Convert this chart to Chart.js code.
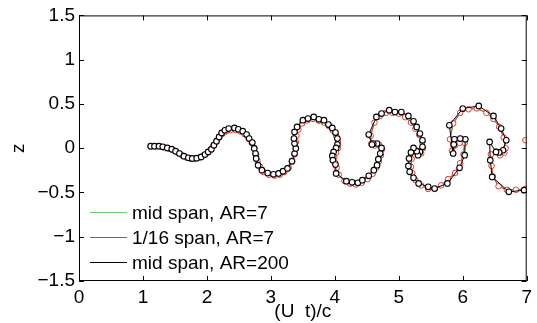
<!DOCTYPE html>
<html>
<head>
<meta charset="utf-8">
<script src="https://cdn.jsdelivr.net/npm/chart.js@4/dist/chart.umd.min.js"></script>
<style>
  html, body { margin: 0; padding: 0; background: #fff; }
  #wrap { width: 537px; height: 323px; }
</style>
</head>
<body>
<div id="wrap"><canvas id="chart"></canvas></div>
<script>
// mid span, AR=200 (black, circle markers)
const ar200X = [1.12,1.18,1.25,1.31,1.38,1.45,1.51,1.57,1.64,1.71,
  1.77,1.84,1.91,1.97,2.02,2.07,2.11,2.15,2.19,2.23,
  2.28,2.34,2.43,2.49,2.56,2.62,2.66,2.71,2.74,2.76,
  2.77,2.80,2.86,2.95,3.04,3.12,3.19,3.26,3.33,3.37,
  3.39,3.37,3.36,3.37,3.41,3.50,3.58,3.67,3.75,3.83,
  3.90,3.96,4.01,4.04,4.04,4.02,3.98,3.96,3.97,4.01,
  4.02,4.18,4.27,4.36,4.43,4.53,4.61,4.66,4.68,4.71,
  4.73,4.66,4.60,4.58,4.53,4.65,4.73,4.85,4.94,5.04,
  5.15,5.23,5.28,5.33,5.37,5.37,5.33,5.30,5.28,5.23,
  5.19,5.16,5.15,5.17,5.23,5.31,5.46,5.56,5.76,5.95,
  6.03,6.04,5.96,5.87,5.86,5.85,5.79,6.00,6.25,6.48,
  6.60,6.68,6.63,6.57,6.52,6.42,6.43,6.46,6.72,6.96,
  7.05];
const ar200Z = [0.023,0.023,0.023,0.015,0.003,-0.011,-0.034,-0.060,-0.090,-0.109,
  -0.116,-0.113,-0.098,-0.071,-0.042,-0.011,0.034,0.079,0.127,0.173,
  0.203,0.222,0.229,0.214,0.192,0.155,0.109,0.064,-0.003,-0.060,
  -0.116,-0.192,-0.248,-0.28,-0.295,-0.285,-0.26,-0.229,-0.147,-0.060,
  -0.003,0.053,0.109,0.184,0.240,0.316,0.335,0.353,0.327,0.316,
  0.267,0.229,0.177,0.109,0.042,0.003,-0.042,-0.087,-0.135,-0.184,
  -0.285,-0.372,-0.385,-0.39,-0.361,-0.312,-0.248,-0.192,-0.124,-0.060,
  0.003,0.053,0.053,0.042,0.155,0.353,0.391,0.429,0.409,0.409,
  0.364,0.304,0.240,0.166,0.090,0.015,-0.042,-0.079,-0.034,0.003,
  -0.048,-0.116,-0.200,-0.267,-0.335,-0.398,-0.436,-0.455,-0.398,-0.222,
  -0.079,0.101,0.109,0.101,0.042,-0.060,0.259,0.448,0.477,0.364,
  0.222,0.090,-0.023,-0.048,-0.042,0.071,-0.135,-0.324,-0.493,-0.474,
  -0.47];

// 1/16 span, AR=7 (red, circle markers); null = break in the line
const spanX = [1.12,1.19,1.26,1.33,1.40,1.47,1.54,1.61,1.68,1.75,
  1.82,1.89,1.95,2.01,2.06,2.10,2.15,2.19,2.24,2.30,
  2.37,2.45,2.52,2.59,2.65,2.70,2.74,2.77,2.79,2.83,
  2.89,2.97,3.06,3.14,3.21,3.28,3.33,3.37,3.39,3.39,
  3.40,3.43,3.49,3.57,3.66,3.75,3.83,3.91,3.97,4.02,
  4.05,4.05,4.02,3.99,4.00,4.03,4.06,4.15,4.24,4.33,
  4.42,4.51,4.59,4.65,4.69,4.72,4.74,4.69,4.63,4.57,
  4.56,4.62,4.70,4.80,4.90,5.00,5.10,5.19,5.26,5.32,
  5.37,5.38,5.35,5.31,5.26,5.22,5.20,5.19,5.21,5.26,
  5.35,5.46,5.56,5.66,5.77,5.88,5.96,6.01,6.03,5.95,
  5.88,5.83,5.80,5.85,5.96,6.09,6.22,6.37,6.48,6.57,
  6.64,6.67,6.65,6.58,6.52,6.44,6.45,6.47,6.56,6.69,
  6.83,6.98,7.10,7.10,6.98,7.10];
const spanZ = [0.02,0.02,0.02,0.01,-0.005,-0.02,-0.05,-0.08,-0.105,-0.12,
  -0.12,-0.105,-0.08,-0.05,-0.015,0.03,0.075,0.12,0.16,0.19,
  0.205,0.205,0.19,0.16,0.115,0.06,0.0,-0.07,-0.14,-0.21,
  -0.27,-0.30,-0.31,-0.30,-0.27,-0.22,-0.15,-0.07,0.0,0.07,
  0.14,0.21,0.28,0.315,0.33,0.31,0.29,0.25,0.20,0.14,
  0.07,0.0,-0.05,-0.10,-0.16,-0.22,-0.30,-0.37,-0.40,-0.41,
  -0.39,-0.35,-0.29,-0.22,-0.15,-0.08,-0.01,0.04,0.03,0.05,
  0.14,0.29,0.36,0.40,0.40,0.39,0.35,0.29,0.22,0.15,
  0.07,0.0,-0.06,-0.05,-0.02,-0.04,-0.12,-0.21,-0.28,-0.36,
  -0.42,-0.46,-0.46,-0.42,-0.35,-0.28,-0.17,-0.07,0.06,0.06,
  0.03,-0.03,0.1,0.28,0.40,0.44,0.45,0.40,0.33,0.24,
  0.12,0.0,-0.05,-0.08,-0.04,-0.07,-0.20,-0.32,-0.43,-0.47,
  -0.47,-0.46,-0.46,null,0.09,0.15];

// mid span, AR=7 (green) sits under the red run, same trace
const midX = spanX;
const midZ = spanZ;

const xTicks = [0,1,2,3,4,5,6,7];
const yTicks = [-1.5,-1,-0.5,0,0.5,1,1.5];
const labels = ['mid span, AR=7', '1/16 span, AR=7', 'mid span, AR=200'];

const pts = (xs, zs) => xs.map((x, i) => ({ x: x, y: zs[i] }));

const FONT = "'Liberation Sans', Arial, Helvetica, sans-serif";
Chart.defaults.font.family = FONT;
Chart.defaults.font.size = 19;
Chart.defaults.color = '#000';

// box, inward ticks on all four sides, and the legend inside the plot
const framePlugin = {
  id: 'frame',
  afterDatasetsDraw(chart) {
    const ctx = chart.ctx;
    const a = chart.chartArea;
    const xs = chart.scales.x, ys = chart.scales.y;
    ctx.save();
    ctx.strokeStyle = '#000';
    ctx.lineWidth = 1;
    ctx.strokeRect(a.left + 0.5, a.top + 0.5, a.right - a.left - 1, a.bottom - a.top - 1);
    ctx.beginPath();
    xTicks.forEach(v => {
      const p = Math.round(xs.getPixelForValue(v)) + 0.5;
      ctx.moveTo(p, a.bottom); ctx.lineTo(p, a.bottom - 5);
      ctx.moveTo(p, a.top); ctx.lineTo(p, a.top + 5);
    });
    yTicks.forEach(v => {
      const p = Math.round(ys.getPixelForValue(v)) + 0.5;
      ctx.moveTo(a.left, p); ctx.lineTo(a.left + 5, p);
      ctx.moveTo(a.right, p); ctx.lineTo(a.right - 5, p);
    });
    ctx.stroke();

    // legend
    const order = [2, 1, 0];
    ctx.font = '19px ' + FONT;
    ctx.textBaseline = 'middle';
    ctx.textAlign = 'left';
    order.forEach((di, row) => {
      const ds = chart.data.datasets[di];
      const y = 212.5 + row * 25;
      ctx.strokeStyle = ds.borderColor;
      ctx.lineWidth = 1;
      ctx.beginPath();
      ctx.moveTo(90, y); ctx.lineTo(127, y);
      ctx.stroke();
      ctx.fillStyle = '#000';
      ctx.fillText(ds.label, 132, y + 1);
    });
    ctx.restore();
  }
};

new Chart(document.getElementById('chart'), {
  type: 'scatter',
  data: {
    datasets: [
      {
        label: labels[2],
        data: pts(ar200X, ar200Z),
        showLine: true,
        borderColor: '#000',
        borderWidth: 1,
        pointRadius: 2.8,
        pointBorderWidth: 1.1,
        pointBackgroundColor: '#fff',
        pointBorderColor: '#000'
      },
      {
        label: labels[1],
        data: pts(spanX, spanZ),
        showLine: true,
        spanGaps: false,
        borderColor: '#e8372c',
        borderWidth: 1,
        pointRadius: 2.8,
        pointBorderWidth: 1,
        pointBackgroundColor: '#fff',
        pointBorderColor: '#e8372c'
      },
      {
        label: labels[0],
        data: pts(midX, midZ),
        showLine: true,
        spanGaps: false,
        borderColor: '#6fd06f',
        borderWidth: 1.2,
        pointRadius: 0
      }
    ]
  },
  options: {
    responsive: true,
    maintainAspectRatio: false,
    animation: false,
    layout: { padding: { top: 15, right: 8, left: 0, bottom: 0 } },
    plugins: {
      legend: { display: false },
      tooltip: { enabled: false }
    },
    scales: {
      x: {
        type: 'linear',
        min: 0, max: 7,
        afterBuildTicks: s => { s.ticks = xTicks.map(v => ({ value: v })); },
        afterFit: s => { s.height = 42; },
        grid: { display: false, drawTicks: false },
        border: { display: false },
        ticks: { padding: 5, callback: v => String(v).replace('-', '\u2212') },
        title: { display: true, text: '(U  t)/c', padding: { top: 0, bottom: 0 } }
      },
      y: {
        type: 'linear',
        min: -1.5, max: 1.5,
        afterBuildTicks: s => { s.ticks = yTicks.map(v => ({ value: v })); },
        afterFit: s => { s.width = 79; },
        grid: { display: false, drawTicks: false },
        border: { display: false },
        ticks: { padding: 4, callback: v => String(v).replace('-', '\u2212') },
        title: { display: true, text: 'z', padding: { top: 7, bottom: 0 } }
      }
    }
  },
  plugins: [framePlugin]
});
</script>
</body>
</html>
